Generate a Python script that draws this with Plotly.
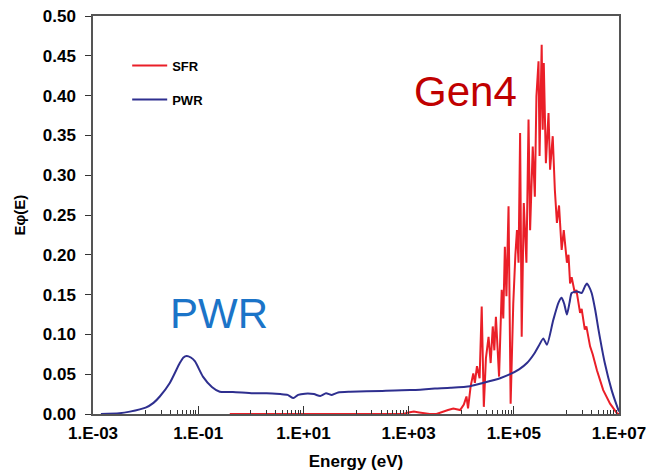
import plotly.graph_objects as go

# ---------------- data (log10 of energy in eV, and E*phi(E)) ----------------
pwr_log_energy = [-2.85, -2.5, -2.3, -2.0, -1.85, -1.73, -1.54, -1.35, -1.28, -1.22, -1.14, -1.06,
                  -0.91, -0.74, -0.59, -0.34, 0.04, 0.3, 0.56, 0.7, 0.81, 0.9, 1.03, 1.2, 1.32,
                  1.43, 1.54, 1.66, 1.89, 2.5, 3.03, 3.5, 3.8, 4.17, 4.41, 4.74, 4.93, 5.1, 5.25,
                  5.4, 5.47, 5.56, 5.63, 5.75, 5.85, 5.91, 5.96, 6.01, 6.06, 6.10, 6.20, 6.29,
                  6.35, 6.39, 6.43, 6.48, 6.55, 6.61, 6.73, 6.86, 6.95, 7.0]
pwr_flux = [0.0, 0.001, 0.003, 0.008, 0.014, 0.022, 0.039, 0.064, 0.071, 0.073, 0.071, 0.066,
            0.047, 0.034, 0.028, 0.0277, 0.026, 0.0262, 0.025, 0.024, 0.020, 0.024, 0.0255, 0.025, 0.0226,
            0.026, 0.024, 0.027, 0.028, 0.029, 0.030, 0.032, 0.033, 0.035, 0.039, 0.045, 0.050, 0.056, 0.064,
            0.077, 0.085, 0.095, 0.087, 0.118, 0.140, 0.146, 0.138, 0.125, 0.140, 0.152, 0.154, 0.152,
            0.160, 0.164, 0.160, 0.152, 0.130, 0.106, 0.064, 0.030, 0.012, 0.003]

sfr_log_energy = [-0.40, 0.5, 1.5, 2.5, 2.9, 3.0, 3.1, 3.2, 3.3, 3.4, 3.53, 3.65, 3.75, 3.85, 3.92,
                  3.98, 4.05, 4.10, 4.13, 4.18, 4.23, 4.26, 4.30, 4.35, 4.39, 4.43, 4.47, 4.52, 4.56,
                  4.60, 4.63, 4.66, 4.72, 4.77, 4.80, 4.83, 4.86, 4.90, 4.94, 4.99, 5.03, 5.06, 5.09,
                  5.12, 5.15, 5.19, 5.24, 5.28, 5.31, 5.36, 5.40, 5.43, 5.47, 5.49, 5.53, 5.55, 5.57,
                  5.61, 5.66, 5.69, 5.74, 5.78, 5.82, 5.86, 5.91, 5.95, 6.01, 6.04, 6.07, 6.10, 6.16,
                  6.19, 6.26, 6.29, 6.35, 6.38, 6.45, 6.50, 6.58, 6.70, 6.83, 6.96, 7.0]
sfr_flux = [0.0, 0.0, 0.0, 0.0, 0.0, 0.002, 0.003, 0.002, 0.001, 0.0, 0.0, 0.003, 0.005, 0.007, 0.006,
            0.005, 0.012, 0.022, 0.007, 0.035, 0.051, 0.039, 0.060, 0.045, 0.135, 0.009, 0.070, 0.097, 0.064,
            0.110, 0.080, 0.122, 0.047, 0.156, 0.120, 0.210, 0.148, 0.261, 0.013, 0.139, 0.200, 0.231, 0.190,
            0.353, 0.097, 0.265, 0.190, 0.370, 0.231, 0.336, 0.273, 0.399, 0.443, 0.324, 0.464, 0.357, 0.441,
            0.315, 0.378, 0.307, 0.349, 0.282, 0.240, 0.262, 0.206, 0.231, 0.190, 0.200, 0.164, 0.172, 0.152,
            0.156, 0.127, 0.132, 0.106, 0.110, 0.085, 0.075, 0.055, 0.030, 0.013, 0.001, 0.0]

x_tick_exponents = [-3, -1, 1, 3, 5, 7]
x_tick_labels = ["1.E-03", "1.E-01", "1.E+01", "1.E+03", "1.E+05", "1.E+07"]
y_tick_values = [0.0, 0.05, 0.10, 0.15, 0.20, 0.25, 0.30, 0.35, 0.40, 0.45, 0.50]

# ---------------------------------------------------------------------------
FONT = "Liberation Sans, Arial, sans-serif"
RED = "#EA1F28"
NAVY = "#2E2F8F"

major_vals = [10.0 ** e for e in x_tick_exponents]
minor_vals = []
for e in x_tick_exponents[:-1]:
    for k in range(1, 10):
        minor_vals.append(k * 10.0 ** (e + 1))

fig = go.Figure()
fig.add_trace(go.Scatter(
    x=[10.0 ** v for v in sfr_log_energy], y=sfr_flux, mode="lines", name="SFR",
    legendgroup="a", line=dict(color=RED, width=2)))
fig.add_trace(go.Scatter(
    x=[10.0 ** v for v in pwr_log_energy], y=pwr_flux, mode="lines", name="PWR",
    legendgroup="b", line=dict(color=NAVY, width=2, shape="spline", smoothing=0.6)))

fig.update_layout(
    width=646, height=472,
    margin=dict(l=93, r=27, t=16, b=58, autoexpand=False),
    paper_bgcolor="white", plot_bgcolor="white",
    font=dict(family=FONT, color="black"),
    showlegend=True,
    legend=dict(x=0.065, y=0.913, xanchor="left", yanchor="top",
                bgcolor="rgba(0,0,0,0)", tracegroupgap=14, itemwidth=35,
                font=dict(family=FONT, size=13, weight="bold", color="black")),
    xaxis=dict(
        type="log", range=[-3, 7], automargin=False, ticklabeloverflow="allow",
        tickmode="array", tickvals=major_vals, ticktext=x_tick_labels,
        ticks="inside", ticklen=8, tickwidth=1, tickcolor="#333",
        ticklabelstandoff=3,
        minor=dict(tickmode="array", tickvals=minor_vals, ticks="inside",
                   ticklen=4, tickwidth=1, tickcolor="#333"),
        showgrid=False, zeroline=False,
        showline=True, linecolor="#555", linewidth=1.5, mirror=True,
        tickfont=dict(family=FONT, size=17, weight="bold"),
        title=dict(text="Energy (eV)", standoff=13,
                   font=dict(family=FONT, size=17, weight="bold")),
    ),
    yaxis=dict(
        range=[0, 0.5], tickmode="array", tickvals=y_tick_values, tickformat=".2f",
        automargin=False, ticklabeloverflow="allow",
        ticks="outside", ticklen=6, tickwidth=1, tickcolor="#333",
        ticklabelstandoff=6,
        showgrid=False, zeroline=False,
        showline=True, linecolor="#555", linewidth=1.5, mirror=True,
        tickfont=dict(family=FONT, size=17, weight="bold"),
        title=dict(text="Eφ(E)", standoff=14,
                   font=dict(family=FONT, size=15, weight="bold")),
    ),
    annotations=[
        dict(text="Gen4", xref="paper", yref="paper", x=0.708, y=0.81,
             xanchor="center", yanchor="middle", showarrow=False,
             font=dict(family=FONT, size=42, color="#C00000")),
        dict(text="PWR", xref="paper", yref="paper", x=0.240, y=0.253,
             xanchor="center", yanchor="middle", showarrow=False,
             font=dict(family=FONT, size=42, color="#1B74C8")),
    ],
)

fig.write_html(
    "out.html",
    config={"displayModeBar": False},
    post_script="document.body.style.margin='0';document.body.style.overflow='hidden';",
)
